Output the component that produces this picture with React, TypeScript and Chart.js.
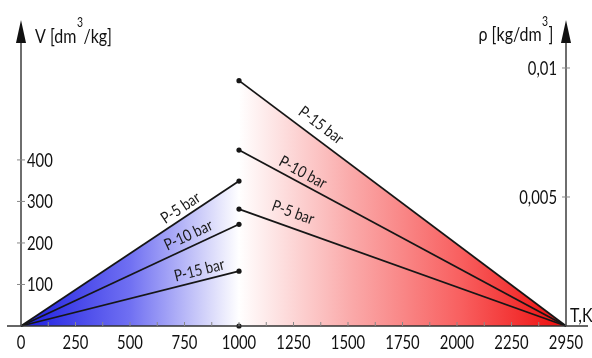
import React, { useEffect, useRef } from "react";
import { Chart, registerables } from "chart.js";

Chart.register(...registerables);

// ---- data ----
const tLabels = ["0", "250", "500", "750", "1000", "1250", "1500", "1750", "2000", "2250", "2950"];
const vTicks = [100, 200, 300, 400];
const rhoTicks = [0.005, 0.01];
const pressureNames = ["P-5 bar", "P-10 bar", "P-15 bar"];
const tStart = "0";
const tMid = "1000";
const tEnd = "2950";
const vAtMid = [349, 245, 132]; // specific volume at 1000 K: P-5, P-10, P-15
const rhoAtMid = [0.00453, 0.00682, 0.00951]; // density at 1000 K: P-5, P-10, P-15
const vMax = 737;
const rhoMax = 0.01186;

const FONT = "Lato, 'Open Sans', 'Liberation Sans', sans-serif";
const LINE = "#161616";
const TXT = "#111";

// label placement (fraction along segment, perpendicular offset px)
const labelPlacement = [
  { t: 0.757, off: 10 },
  { t: 0.79, off: 11.5 },
  { t: 0.83, off: 10.5 },
  { t: 0.15, off: 15 },
  { t: 0.18, off: 10.5 },
  { t: 0.226, off: 13.5 },
];

function blueGradient(c: any) {
  const chart = c.chart;
  if (!chart.chartArea) return "rgba(0,0,0,0)";
  const xs = chart.scales.x;
  const x0 = xs.getPixelForValue(tLabels.indexOf(tStart));
  const x1 = xs.getPixelForValue(tLabels.indexOf(tMid));
  const g = chart.ctx.createLinearGradient(x0, 0, x1, 0);
  g.addColorStop(0, "rgb(28,28,225)");
  g.addColorStop(0.5, "rgb(112,112,242)");
  g.addColorStop(0.85, "rgb(212,212,250)");
  g.addColorStop(1, "rgb(255,255,255)");
  return g;
}

function redGradient(c: any) {
  const chart = c.chart;
  if (!chart.chartArea) return "rgba(0,0,0,0)";
  const xs = chart.scales.x;
  const x0 = xs.getPixelForValue(tLabels.indexOf(tMid));
  const x1 = xs.getPixelForValue(tLabels.indexOf(tEnd));
  const g = chart.ctx.createLinearGradient(x0, 0, x1, 0);
  g.addColorStop(0, "rgb(255,255,255)");
  g.addColorStop(0.35, "rgb(250,168,168)");
  g.addColorStop(0.68, "rgb(248,95,95)");
  g.addColorStop(1, "rgb(238,12,12)");
  return g;
}

// condensed text helper (narrow face like the original)
function ctext(ctx: CanvasRenderingContext2D, text: string, x: number, y: number, size: number, align: string, sx: number) {
  ctx.save();
  ctx.font = `${size}px ${FONT}`;
  ctx.textBaseline = "alphabetic";
  ctx.textAlign = "left";
  const w = ctx.measureText(text).width * sx;
  const left = align === "left" ? x : align === "right" ? x - w : x - w / 2;
  ctx.translate(left, y);
  ctx.scale(sx, 1);
  ctx.fillText(text, 0, 0);
  ctx.restore();
  return w;
}

function cwidth(ctx: CanvasRenderingContext2D, text: string, size: number, sx: number) {
  ctx.save();
  ctx.font = `${size}px ${FONT}`;
  const w = ctx.measureText(text).width * sx;
  ctx.restore();
  return w;
}

const TICK_SIZE = 19;
const TICK_SX = 0.78;

const decoPlugin = {
  id: "deco",
  afterDatasetsDraw(chart: any) {
    const { ctx, chartArea: a, scales } = chart;
    const xs = scales.x;
    ctx.save();
    // baseline
    ctx.strokeStyle = "#333";
    ctx.lineWidth = 1.6;
    ctx.beginPath();
    ctx.moveTo(7, a.bottom);
    ctx.lineTo(588, a.bottom);
    ctx.stroke();
    // vertical axes with arrows
    ctx.strokeStyle = "#4a4a4a";
    ctx.lineWidth = 1.6;
    for (const ax of [a.left, a.right]) {
      ctx.beginPath();
      ctx.moveTo(ax, a.bottom);
      ctx.lineTo(ax, a.top + 20);
      ctx.stroke();
      ctx.fillStyle = "#111";
      ctx.beginPath();
      ctx.moveTo(ax, a.top);
      ctx.lineTo(ax - 5, a.top + 23);
      ctx.lineTo(ax + 5, a.top + 23);
      ctx.closePath();
      ctx.fill();
    }
    // tick marks
    ctx.strokeStyle = "#888";
    ctx.lineWidth = 1;
    for (const v of vTicks) {
      const py = scales.y.getPixelForValue(v);
      ctx.beginPath();
      ctx.moveTo(a.left - 4, py);
      ctx.lineTo(a.left + 4, py);
      ctx.stroke();
    }
    for (const v of rhoTicks) {
      const py = scales.y2.getPixelForValue(v);
      ctx.beginPath();
      ctx.moveTo(a.right - 4, py);
      ctx.lineTo(a.right + 4, py);
      ctx.stroke();
    }
    for (let i = 0.5; i < tLabels.length - 1; i += 0.5) {
      const px = xs.getPixelForValue(i);
      ctx.beginPath();
      ctx.moveTo(px, a.bottom - 4);
      ctx.lineTo(px, a.bottom);
      ctx.stroke();
    }

    // tick labels
    ctx.fillStyle = TXT;
    tLabels.forEach((lab, i) => {
      ctext(ctx, lab, xs.getPixelForValue(i), 349, TICK_SIZE, "center", TICK_SX);
    });
    vTicks.forEach((v) => {
      const py = scales.y.getPixelForValue(v);
      ctext(ctx, String(v), a.left + 6, py + 7, TICK_SIZE, "left", TICK_SX);
    });
    rhoTicks.forEach((v) => {
      const py = scales.y2.getPixelForValue(v);
      ctext(ctx, String(v).replace(".", ","), a.right - 9, py + 7, TICK_SIZE, "right", TICK_SX);
    });

    // line labels
    ctx.fillStyle = "#1a1a1a";
    labelPlacement.forEach((lp, i) => {
      const meta = chart.getDatasetMeta(i);
      const p0 = meta.data[0];
      const p1 = meta.data[1];
      const dx = p1.x - p0.x;
      const dy = p1.y - p0.y;
      const len = Math.hypot(dx, dy);
      const ux = dx / len;
      const uy = dy / len;
      const cx = p0.x + dx * lp.t + uy * lp.off;
      const cy = p0.y + dy * lp.t - ux * lp.off;
      ctx.save();
      ctx.translate(cx, cy);
      ctx.rotate(Math.atan2(dy, dx));
      ctx.font = `16px ${FONT}`;
      ctx.textAlign = "center";
      ctx.textBaseline = "middle";
      ctx.scale(0.85, 1);
      ctx.fillText(chart.data.datasets[i].label, 0, 0);
      ctx.restore();
    });

    // axis titles
    ctx.fillStyle = TXT;
    const TS = 20;
    const TSX = 0.8;
    let x = 35;
    x += ctext(ctx, "V [dm", x, 43, TS, "left", TSX);
    x += ctext(ctx, "3", x + 0.5, 27, 13, "left", TSX) + 1;
    ctext(ctx, "/kg]", x, 43, TS, "left", TSX);

    const r1 = "ρ [kg/dm";
    const r2 = "]";
    const total = cwidth(ctx, r1, TS, TSX) + cwidth(ctx, "3", 13, TSX) + cwidth(ctx, r2, TS, TSX) + 1.5;
    let rx = 554 - total;
    rx += ctext(ctx, r1, rx, 41, TS, "left", TSX);
    rx += ctext(ctx, "3", rx + 0.5, 26, 13, "left", TSX) + 1;
    ctext(ctx, r2, rx, 41, TS, "left", TSX);

    ctext(ctx, "T,K", 570, 322, TS, "left", TSX);
    ctx.restore();
  },
};

export default function App() {
  const ref = useRef<HTMLCanvasElement | null>(null);
  useEffect(() => {
    document.body.style.margin = "0";
    if (!ref.current) return;
    Chart.defaults.font.family = FONT;
    const blue = pressureNames.map((name, i) => ({
      label: name,
      data: [
        { x: tStart, y: 0 },
        { x: tMid, y: vAtMid[i] },
      ],
      yAxisID: "y",
      borderColor: LINE,
      borderWidth: 1.8,
      pointRadius: [0, 2.6],
      pointBackgroundColor: LINE,
      pointBorderWidth: 0,
      fill: i === 0 ? "origin" : false,
      backgroundColor: i === 0 ? blueGradient : "transparent",
      clip: false as any,
    }));
    const red = pressureNames.map((name, i) => ({
      label: name,
      data: [
        { x: tMid, y: rhoAtMid[i] },
        { x: tEnd, y: 0 },
      ],
      yAxisID: "y2",
      borderColor: LINE,
      borderWidth: 1.8,
      pointRadius: [2.6, 0],
      pointBackgroundColor: LINE,
      pointBorderWidth: 0,
      fill: i === 2 ? "origin" : false,
      backgroundColor: i === 2 ? redGradient : "transparent",
      clip: false as any,
    }));
    const dot = {
      label: "base",
      data: [{ x: tMid, y: 0 }],
      yAxisID: "y",
      borderColor: LINE,
      showLine: false,
      pointRadius: 2.6,
      pointBackgroundColor: LINE,
      pointBorderWidth: 0,
      clip: false as any,
    };
    const chart = new Chart(ref.current, {
      type: "line",
      data: { labels: tLabels, datasets: [...blue, ...red, dot] as any },
      options: {
        responsive: false,
        animation: false,
        layout: { padding: { top: 20, left: 0, right: 0, bottom: 0 } },
        plugins: {
          legend: { display: false },
          tooltip: { enabled: false },
          filler: { drawTime: "beforeDatasetsDraw" } as any,
        },
        scales: {
          x: {
            type: "category",
            offset: false,
            grid: { display: false },
            border: { display: false },
            ticks: { display: false, autoSkip: false },
            afterFit: (s: any) => {
              s.height = 32;
            },
          },
          y: {
            position: "left",
            min: 0,
            max: vMax,
            grid: { display: false },
            border: { display: false },
            afterBuildTicks: (s: any) => {
              s.ticks = vTicks.map((v) => ({ value: v }));
            },
            ticks: { display: false },
            afterFit: (s: any) => {
              s.width = 21;
            },
          },
          y2: {
            position: "right",
            min: 0,
            max: rhoMax,
            grid: { display: false },
            border: { display: false },
            afterBuildTicks: (s: any) => {
              s.ticks = rhoTicks.map((v) => ({ value: v }));
            },
            ticks: { display: false },
            afterFit: (s: any) => {
              s.width = 26;
            },
          },
        },
      },
      plugins: [decoPlugin],
    });
    return () => chart.destroy();
  }, []);
  return <canvas ref={ref} width={592} height={358} style={{ display: "block" }} />;
}
